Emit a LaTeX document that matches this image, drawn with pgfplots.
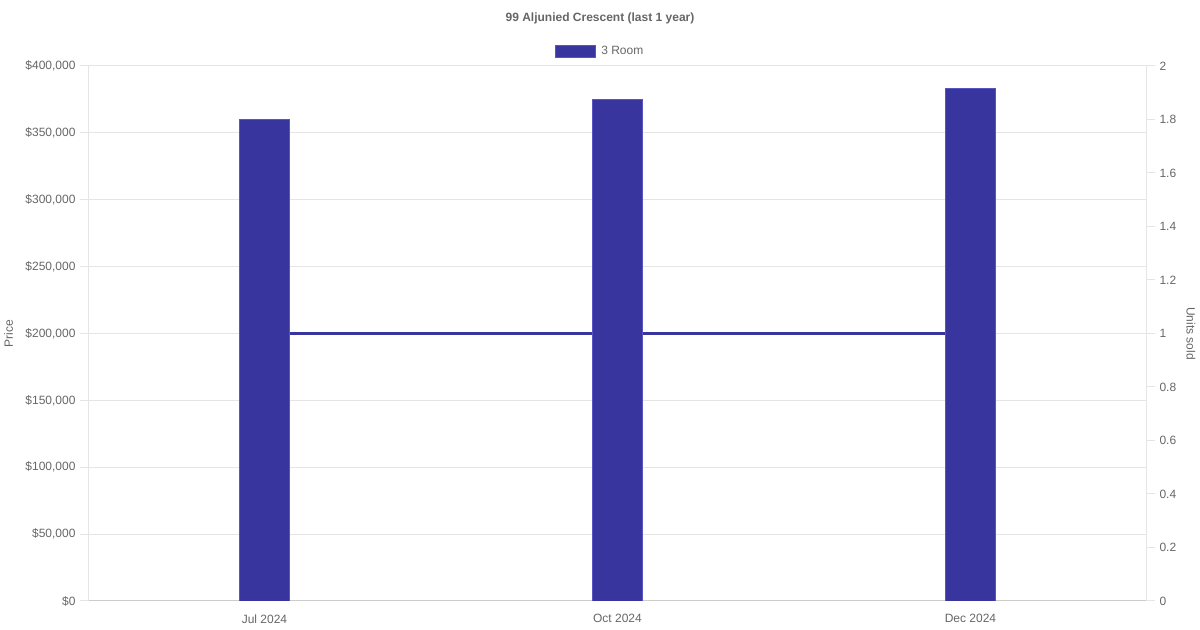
\documentclass[border=0pt]{standalone}
\usepackage{fontspec}
\setmainfont{Liberation Sans}
\usepackage{pgfplots}
\pgfplotsset{compat=1.18}
\definecolor{barBlue}{RGB}{57,53,159}
\definecolor{barEdge}{RGB}{88,84,196}
\definecolor{txtGray}{RGB}{102,102,102}
\definecolor{gridGray}{RGB}{229,229,229}
\definecolor{baseGray}{RGB}{204,204,204}

\begin{document}
\begin{tikzpicture}[x=1bp,y=1bp]
    \useasboundingbox (0,0) rectangle (1200,630);
    \pgfplotsset{
        box/.style={
            at={(88bp,29bp)}, anchor=south west,
            width=1059bp, height=535bp, scale only axis,
            xmin=-0.5, xmax=2.5,
            tick label style={font=\fontsize{12bp}{14bp}\selectfont, text=txtGray},
            label style={font=\fontsize{12bp}{14bp}\selectfont, text=txtGray},
            /pgf/number format/assume math mode=true,
        }
    }

    % grid, left axis and categories
    \begin{axis}[
        box,
        ymin=0, ymax=400000, ytick distance=50000,
        scaled y ticks=false,
        yticklabel={\$\pgfmathprintnumber[fixed,1000 sep={,}]{\tick}},
        xtick={0,1,2}, xticklabels={Jul 2024, Oct 2024, Dec 2024},
        x tick label style={yshift=-2bp},
        axis x line*=bottom, axis y line*=left,
        x axis line style={baseGray, line width=1bp},
        y axis line style={gridGray, line width=1bp},
        ymajorgrids, grid style={gridGray, line width=1bp},
        tick align=outside, major tick length=8bp,
        ytick style={gridGray, line width=1bp},
        xtick style={draw=none},
        yticklabel style={xshift=-1bp},
        ylabel={Price},
        ylabel style={at={(axis description cs:-0.075,0.5)}, anchor=center},
    ]
    \addplot[draw=none] coordinates {(0,0)};
    \end{axis}

    % units sold (right axis), behind the bars
    \begin{axis}[
        box,
        ymin=0, ymax=2, ytick distance=0.2,
        axis y line*=right, axis x line=none,
        y axis line style={gridGray, line width=1bp},
        tick align=outside, major tick length=8bp,
        ytick style={gridGray, line width=1bp},
        yticklabel style={/pgf/number format/fixed, xshift=1bp},
        ylabel={Units sold},
        ylabel style={at={(axis description cs:1.0415,0.5)}, anchor=center, rotate=180},
    ]
    \addplot[barBlue, line width=3bp, mark=none] coordinates {
        (0,1) (1,1) (2,1)
    };
    \end{axis}

    % bars
    \begin{axis}[
        box,
        ymin=0, ymax=400000,
        axis lines=none,
        ybar, bar width=50bp,
        legend style={
            at={(axis description cs:0.4835,1.0275)}, anchor=center,
            draw=none, fill=none,
            font=\fontsize{12bp}{14bp}\selectfont, text=txtGray,
            inner sep=0pt,
        },
        legend cell align=left,
    ]
    \addplot[fill=barBlue, draw=barEdge, line width=0.6bp,
        legend image code/.code={%
            \draw[fill=barBlue, draw=barEdge, line width=0.5bp] (-3bp,-6bp) rectangle (37bp,6bp);
        },
    ] coordinates {
        (0,360000)
        (1,375000)
        (2,383000)
    };
    \legend{\hspace{4bp}3 Room}
    \end{axis}

    \node[font=\bfseries\fontsize{12bp}{14bp}\selectfont, text=txtGray] at (600,612) {99 Aljunied Crescent (last 1 year)};
\end{tikzpicture}
\end{document}
